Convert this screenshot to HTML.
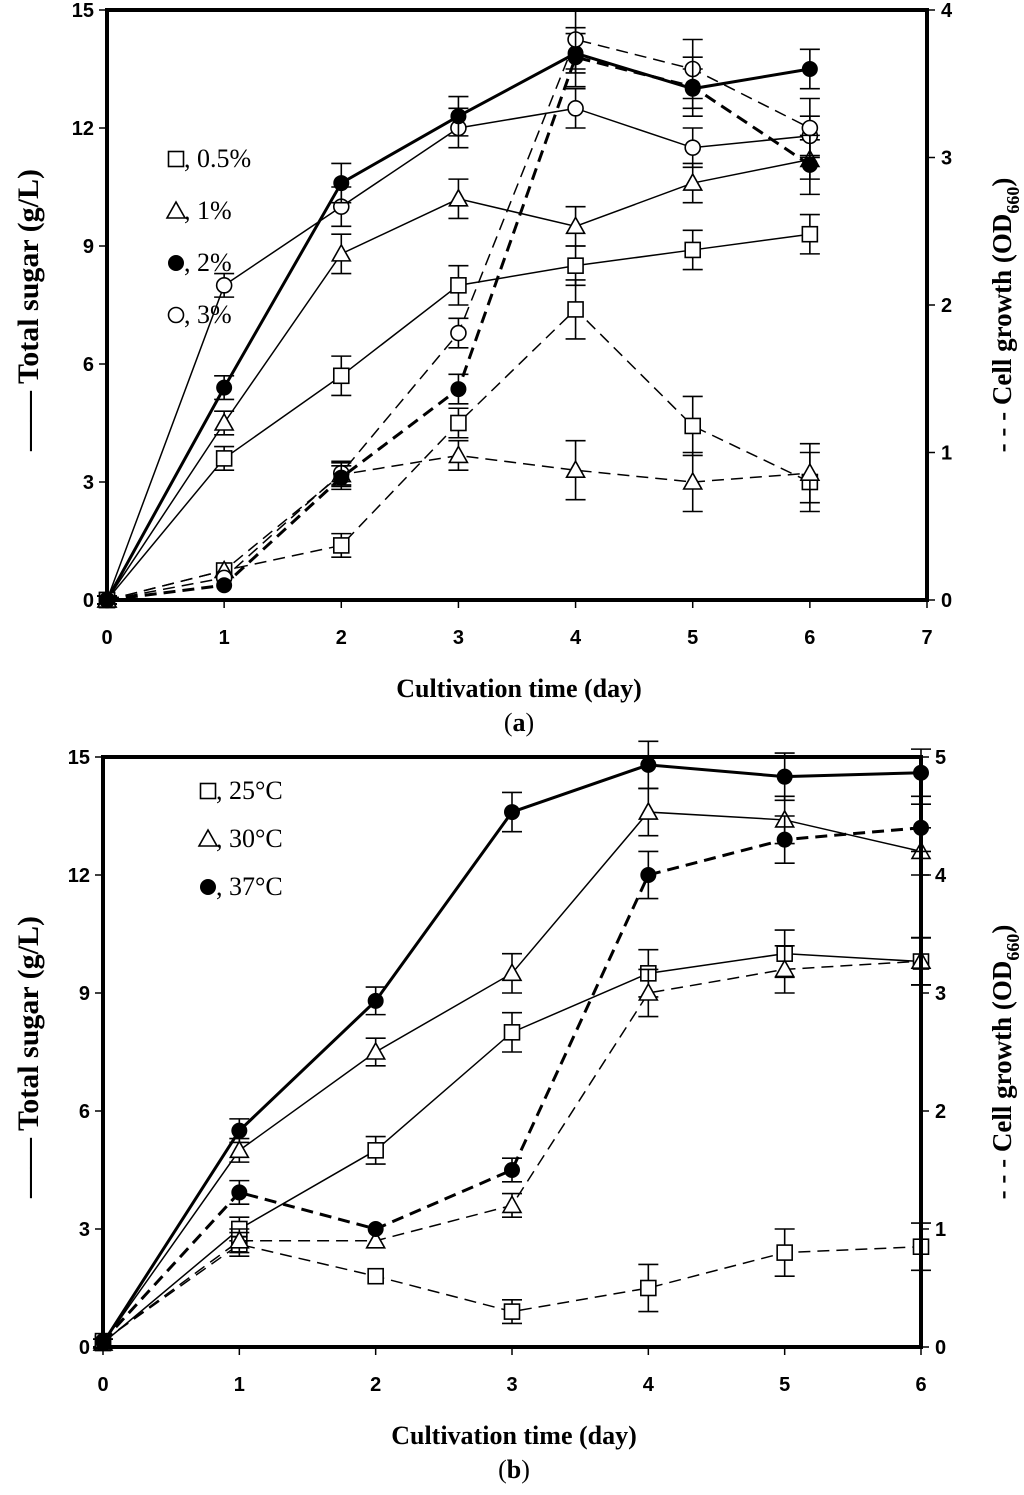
<!DOCTYPE html>
<html><head><meta charset="utf-8"><style>
body{margin:0;background:#fff;}
svg{display:block;}
.tk{font-family:"Liberation Sans",sans-serif;font-weight:bold;font-size:20px;}
.tt{font-family:"Liberation Serif",serif;font-weight:bold;font-size:26px;}
.yt{font-family:"Liberation Serif",serif;font-weight:bold;font-size:30px;}
.yr{font-family:"Liberation Serif",serif;font-weight:bold;font-size:27px;}
.lg{font-family:"Liberation Serif",serif;font-size:26px;}
</style></head><body>
<svg id="chart" width="1024" height="1495" viewBox="0 0 1024 1495" xmlns="http://www.w3.org/2000/svg"></svg>
<script>
// ---- Panel (a) data ----
const daysA = [0,1,2,3,4,5,6];
const xTicksA = [0,1,2,3,4,5,6,7];
const yLeftTicksA = [0,3,6,9,12,15];
const yRightTicksA = [0,1,2,3,4];
const legendA = ["0.5%","1%","2%","3%"];
const sugarA_05 = [0,3.6,5.7,8.0,8.5,8.9,9.3];
const sugarA_1  = [0,4.5,8.8,10.2,9.5,10.6,11.2];
const sugarA_2  = [0,5.4,10.6,12.3,13.9,13.0,13.5];
const sugarA_3  = [0,8.0,10.0,12.0,12.5,11.5,11.8];
const sugarErrA = [0.1,0.3,0.5,0.5,0.5,0.5,0.5];
const cellA_05 = [0,0.2,0.37,1.2,1.97,1.18,0.8];
const cellA_1  = [0,0.2,0.85,0.98,0.88,0.8,0.86];
const cellA_2  = [0,0.1,0.83,1.43,3.68,3.48,2.95];
const cellA_3  = [0,0.15,0.86,1.81,3.8,3.6,3.2];
const cellErrA = [0.02,0.05,0.08,0.1,0.2,0.2,0.2];
// ---- Panel (b) data ----
const daysB = [0,1,2,3,4,5,6];
const xTicksB = [0,1,2,3,4,5,6];
const yLeftTicksB = [0,3,6,9,12,15];
const yRightTicksB = [0,1,2,3,4,5];
const legendB = ["25\u00B0C","30\u00B0C","37\u00B0C"];
const sugarB_25 = [0.1,3.0,5.0,8.0,9.5,10.0,9.8];
const sugarB_30 = [0.1,5.0,7.5,9.5,13.6,13.4,12.6];
const sugarB_37 = [0.1,5.5,8.8,13.6,14.8,14.5,14.6];
const sugarErrB = [0.1,0.3,0.35,0.5,0.6,0.6,0.6];
const cellB_25 = [0.05,0.87,0.6,0.3,0.5,0.8,0.85];
const cellB_30 = [0.05,0.9,0.9,1.2,3.0,3.2,3.27];
const cellB_37 = [0.05,1.31,1.0,1.5,4.0,4.3,4.4];
const cellErrB = [0.02,0.1,0.06,0.1,0.2,0.2,0.2];

const NS="http://www.w3.org/2000/svg";
const svg=document.getElementById('chart');
function mk(tag,attrs,parent,name){const e=document.createElementNS(NS,tag);for(const k in attrs)e.setAttribute(k,attrs[k]);


(parent||svg).appendChild(e);return e;}

function marker(g,type,x,y,name){
  if(type==='sq') mk('rect',{x:x-7.5,y:y-7.5,width:15,height:15,fill:'#fff',stroke:'#000','stroke-width':1.6},g,name);
  else if(type==='tri') mk('polygon',{points:`${x},${y-9} ${x-9},${y+7} ${x+9},${y+7}`,fill:'#fff',stroke:'#000','stroke-width':1.6},g,name);
  else if(type==='dot') mk('circle',{cx:x,cy:y,r:7.5,fill:'#000',stroke:'#000','stroke-width':1},g,name);
  else mk('circle',{cx:x,cy:y,r:7.5,fill:'#fff',stroke:'#000','stroke-width':1.6},g,name);
}

function panel(P){
  const g=mk('g',{},svg,P.id);
  const X=d=>P.x0+(d-P.xMin)/(P.xMax-P.xMin)*(P.x1-P.x0);
  const YL=v=>P.yb-v/P.lMax*(P.yb-P.yt);
  const YR=v=>P.yb-v/P.rMax*(P.yb-P.yt);
  P.series.forEach(s=>{
    const Y=s.axis==='L'?YL:YR;
    const sg=mk('g',{},g,s.name);
    const pts=s.vals.map((v,i)=>X(P.days[i])+','+Y(v)).join(' ');
    const at={points:pts,fill:'none',stroke:'#000','stroke-width':s.w};
    if(s.dash)at['stroke-dasharray']=s.dash;
    mk('polyline',at,sg,s.name+'-line');
    s.vals.forEach((v,i)=>{
      const x=X(P.days[i]),e=s.err[i];
      if(e>0.06){
        mk('line',{x1:x,y1:Y(v-e),x2:x,y2:Y(v+e),stroke:'#000','stroke-width':1.6},sg,'error-bar');
        mk('line',{x1:x-10,y1:Y(v-e),x2:x+10,y2:Y(v-e),stroke:'#000','stroke-width':1.6},sg,'error-cap');
        mk('line',{x1:x-10,y1:Y(v+e),x2:x+10,y2:Y(v+e),stroke:'#000','stroke-width':1.6},sg,'error-cap');
      }
      marker(sg,s.m,x,Y(v),s.name+'-point');
    });
  });
  mk('rect',{x:P.x0,y:P.yt,width:P.x1-P.x0,height:P.yb-P.yt,fill:'none',stroke:'#000','stroke-width':4},g,'plot-frame');
  P.xTicks.forEach(t=>{const x=X(t);
    mk('line',{x1:x,y1:P.yb,x2:x,y2:P.yb+8,stroke:'#000','stroke-width':1.5},g,'x-tick');
    const tx=mk('text',{x:x,y:P.yb+44,'text-anchor':'middle',class:'tk'},g,'x-tick-label');tx.textContent=t;});
  P.lTicks.forEach(t=>{const y=YL(t);
    mk('line',{x1:P.x0-8,y1:y,x2:P.x0,y2:y,stroke:'#000','stroke-width':1.5},g,'y-left-tick');
    const tx=mk('text',{x:P.x0-13,y:y+7,'text-anchor':'end',class:'tk'},g,'y-left-tick-label');tx.textContent=t;});
  P.rTicks.forEach(t=>{const y=YR(t);
    mk('line',{x1:P.x1,y1:y,x2:P.x1+8,y2:y,stroke:'#000','stroke-width':1.5},g,'y-right-tick');
    const tx=mk('text',{x:P.x1+14,y:y+7,'text-anchor':'start',class:'tk'},g,'y-right-tick-label');tx.textContent=t;});
  const xt=mk('text',{x:(P.x0+P.x1)/2+2,y:P.yb+97,'text-anchor':'middle',class:'tt'},g,'x-axis-title');xt.textContent='Cultivation time (day)';
  const cap=mk('text',{x:(P.x0+P.x1)/2+2,y:P.yb+131,'text-anchor':'middle',class:'lg'},g,'panel-caption');
  cap.innerHTML='(<tspan font-weight="bold">'+P.cap+'</tspan>)';
  const ym=(P.yt+P.yb)/2;
  const yl=mk('text',{transform:`translate(38,${ym+5}) rotate(-90)`,'text-anchor':'middle',class:'yt'},g,'y-left-title');
  yl.textContent='\u2014\u2014  Total sugar (g/L)';
  const yr=mk('text',{transform:`translate(1011,${ym+10}) rotate(-90)`,'text-anchor':'middle',class:'yr'},g,'y-right-title');
  yr.innerHTML='- - -  Cell growth (OD<tspan font-size="18" dy="8">660</tspan><tspan dy="-8">)</tspan>';
  P.legend.forEach((l,i)=>{const y=P.lgY+i*P.lgStep;
    const lg=mk('g',{},g,'legend-entry');
    marker(lg,P.lgM[i],P.lgX,y-8,'legend-marker');
    const tx=mk('text',{x:P.lgX+8,y:y,class:'lg'},lg,'legend-label');tx.textContent=', '+l;});
}

panel({id:'panel-a',x0:107,x1:927,xMin:0,xMax:7,yt:10,yb:600,lMax:15,rMax:4,days:daysA,
 xTicks:xTicksA,lTicks:yLeftTicksA,rTicks:yRightTicksA,cap:'a',
 legend:legendA,lgM:['sq','tri','dot','circ'],lgX:176,lgY:167,lgStep:52,
 series:[
  {name:'sugar-0.5pct',vals:sugarA_05,err:sugarErrA,axis:'L',m:'sq',w:1.5},
  {name:'sugar-1pct',vals:sugarA_1,err:sugarErrA,axis:'L',m:'tri',w:1.5},
  {name:'sugar-3pct',vals:sugarA_3,err:sugarErrA,axis:'L',m:'circ',w:1.5},
  {name:'sugar-2pct',vals:sugarA_2,err:sugarErrA,axis:'L',m:'dot',w:3},
  {name:'cell-0.5pct',vals:cellA_05,err:cellErrA,axis:'R',m:'sq',w:1.5,dash:'12 7'},
  {name:'cell-1pct',vals:cellA_1,err:cellErrA,axis:'R',m:'tri',w:1.5,dash:'12 7'},
  {name:'cell-3pct',vals:cellA_3,err:cellErrA,axis:'R',m:'circ',w:1.5,dash:'12 7'},
  {name:'cell-2pct',vals:cellA_2,err:cellErrA,axis:'R',m:'dot',w:3,dash:'12 7'}]});

panel({id:'panel-b',x0:103,x1:921,xMin:0,xMax:6,yt:757,yb:1347,lMax:15,rMax:5,days:daysB,
 xTicks:xTicksB,lTicks:yLeftTicksB,rTicks:yRightTicksB,cap:'b',
 legend:legendB,lgM:['sq','tri','dot'],lgX:208,lgY:799,lgStep:48,
 series:[
  {name:'sugar-25C',vals:sugarB_25,err:sugarErrB,axis:'L',m:'sq',w:1.5},
  {name:'sugar-30C',vals:sugarB_30,err:sugarErrB,axis:'L',m:'tri',w:1.5},
  {name:'sugar-37C',vals:sugarB_37,err:sugarErrB,axis:'L',m:'dot',w:3},
  {name:'cell-25C',vals:cellB_25,err:cellErrB,axis:'R',m:'sq',w:1.5,dash:'12 7'},
  {name:'cell-30C',vals:cellB_30,err:cellErrB,axis:'R',m:'tri',w:1.5,dash:'12 7'},
  {name:'cell-37C',vals:cellB_37,err:cellErrB,axis:'R',m:'dot',w:3,dash:'12 7'}]});
</script>
</body></html>
